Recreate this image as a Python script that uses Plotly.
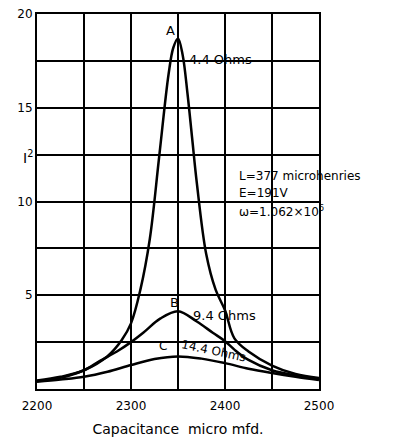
import plotly.graph_objects as go

# Capacitance (micro-micro farads) and I^2 values
cap_a = [2200, 2225, 2250, 2275, 2290, 2300, 2310, 2320, 2330, 2340, 2345, 2350,
         2355, 2360, 2365, 2370, 2380, 2390, 2400, 2410, 2425, 2450, 2475, 2500]
i2_a = [0.45, 0.65, 1.0, 1.75, 2.6, 3.5, 5.3, 8.0, 12.4, 16.8, 18.2, 18.7,
        17.8, 15.8, 13.4, 11.0, 7.2, 5.3, 4.2, 2.7, 2.0, 1.25, 0.8, 0.58]

cap_b = [2200, 2225, 2250, 2267, 2285, 2300, 2313, 2331, 2350, 2370, 2387, 2400,
         2410, 2425, 2450, 2475, 2500]
i2_b = [0.42, 0.6, 1.0, 1.5, 2.0, 2.5, 3.0, 3.75, 4.15, 3.6, 3.0, 2.55,
        2.1, 1.55, 1.0, 0.72, 0.55]

cap_c = [2200, 2225, 2250, 2275, 2300, 2325, 2350, 2375, 2400, 2425, 2450, 2475, 2500]
i2_c = [0.38, 0.5, 0.65, 0.92, 1.28, 1.6, 1.74, 1.62, 1.38, 1.08, 0.85, 0.65, 0.48]

x_grid = [2200, 2250, 2300, 2350, 2400, 2450, 2500]
x_labels = ["2200", "", "2300", "", "2400", "", "2500"]
y_grid = [0, 2.5, 5, 7.5, 10, 12.5, 15, 17.5, 20]
y_labels = ["", "", "5", "", "10", "", "15", "", "20"]

FONT = "DejaVu Sans"

fig = go.Figure()
for xs, ys in [(cap_a, i2_a), (cap_b, i2_b), (cap_c, i2_c)]:
    fig.add_trace(go.Scatter(x=xs, y=ys, mode="lines",
                             line=dict(color="black", width=2.5, shape="spline", smoothing=1.0),
                             showlegend=False, hoverinfo="skip"))

ann = [
    dict(x=2342, y=19.1, text="A", xanchor="center", yanchor="middle", size=13),
    dict(x=2360, y=17.6, text="4.4 Ohms", xanchor="left", yanchor="middle", size=13),
    dict(x=2346, y=4.6, text="B", xanchor="center", yanchor="middle", size=13),
    dict(x=2364, y=3.9, text="9.4 Ohms", xanchor="left", yanchor="middle", size=13),
    dict(x=2334, y=2.3, text="C", xanchor="center", yanchor="middle", size=12),
    dict(x=2350, y=2.05, text="14.4 Ohms", xanchor="left", yanchor="middle", size=12, angle=12),
    dict(x=2413, y=11.35, text="L=377 microhenries", xanchor="left", yanchor="middle", size=12),
    dict(x=2413, y=10.45, text="E=191V", xanchor="left", yanchor="middle", size=12),
    dict(x=2413, y=9.5, text="ω=1.062×10<sup>6</sup>", xanchor="left", yanchor="middle", size=12),
]
for a in ann:
    fig.add_annotation(x=a["x"], y=a["y"], text=a["text"], showarrow=False,
                       xanchor=a["xanchor"], yanchor=a["yanchor"], textangle=a.get("angle", 0),
                       font=dict(family=FONT, size=a["size"], color="black"))

fig.add_annotation(x=-0.055, xref="paper", y=12.4, yref="y", text="I<sup>2</sup>",
                   showarrow=False, font=dict(family=FONT, size=14, color="black"))

fig.update_xaxes(range=[2200, 2500], tickvals=x_grid, ticktext=x_labels, automargin=False,
                 ticklabeloverflow="allow", ticklabelstandoff=5,
                 showgrid=True, gridcolor="black", gridwidth=1.5,
                 showline=True, linecolor="black", linewidth=2, mirror=True,
                 zeroline=False, ticks="", tickfont=dict(family=FONT, size=12, color="black"),
                 title=dict(text="Capacitance  micro mfd.", font=dict(family=FONT, size=14, color="black"),
                            standoff=12))
fig.update_yaxes(range=[0, 20], tickvals=y_grid, ticktext=y_labels, automargin=False,
                 ticklabeloverflow="allow",
                 showgrid=True, gridcolor="black", gridwidth=1.5,
                 showline=True, linecolor="black", linewidth=2, mirror=True,
                 zeroline=False, ticks="", tickfont=dict(family=FONT, size=12, color="black"))

# page body has an 8px default margin; size the figure so the plot area lands where the reference has it
fig.update_layout(width=395, height=435, margin=dict(l=29, r=84, t=6, b=54),
                  plot_bgcolor="white", paper_bgcolor="white", showlegend=False)

fig.write_html("out.html")
